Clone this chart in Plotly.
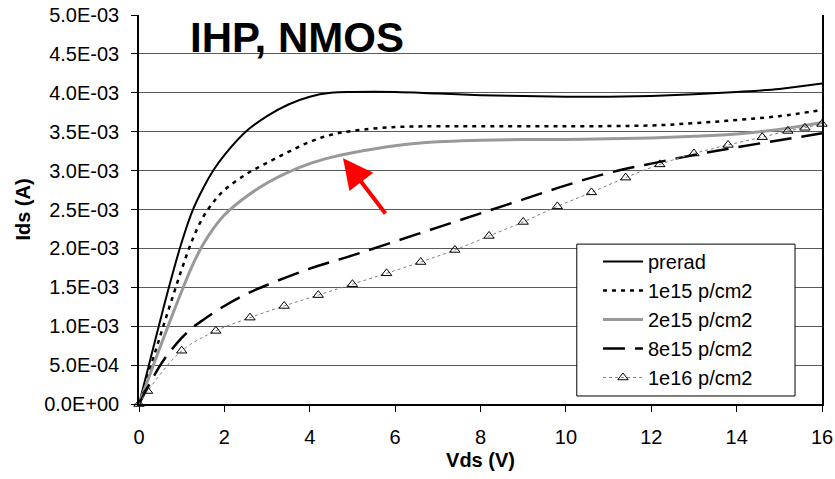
import plotly.graph_objects as go

# ---------------- data ----------------
vds_a = [0, 0.25, 0.5, 0.75, 1.0, 1.25, 1.5, 1.75, 2, 2.5, 3, 3.5, 4, 4.5, 5, 6, 7, 8, 9, 10, 11, 12, 13, 14, 15, 16]
preread = [0, 0.54e-3, 1.08e-3, 1.60e-3, 2.08e-3, 2.48e-3, 2.77e-3, 3.01e-3, 3.20e-3, 3.50e-3, 3.70e-3, 3.85e-3,
           3.95e-3, 4.00e-3, 4.01e-3, 4.01e-3, 3.99e-3, 3.97e-3, 3.96e-3, 3.95e-3, 3.95e-3, 3.96e-3, 3.98e-3,
           4.01e-3, 4.05e-3, 4.12e-3]

vds_b = [0, 0.25, 0.5, 0.75, 1.0, 1.25, 1.5, 1.75, 2, 2.5, 3, 3.5, 4, 4.5, 5, 6, 7, 8, 10, 12, 13, 14, 15, 16]
dose_1e15 = [0, 0.44e-3, 0.88e-3, 1.31e-3, 1.73e-3, 2.11e-3, 2.40e-3, 2.60e-3, 2.75e-3, 2.95e-3, 3.10e-3, 3.24e-3,
             3.37e-3, 3.46e-3, 3.51e-3, 3.56e-3, 3.57e-3, 3.57e-3, 3.57e-3, 3.58e-3, 3.61e-3, 3.65e-3, 3.70e-3,
             3.78e-3]

vds_c = [0, 0.25, 0.5, 0.75, 1.0, 1.25, 1.5, 1.75, 2, 2.5, 3, 3.5, 4, 4.5, 5, 6, 7, 8, 9, 10, 11, 12, 13, 14, 15, 16]
dose_2e15 = [0, 0.37e-3, 0.74e-3, 1.10e-3, 1.45e-3, 1.78e-3, 2.05e-3, 2.26e-3, 2.43e-3, 2.66e-3, 2.84e-3, 2.98e-3,
             3.09e-3, 3.17e-3, 3.23e-3, 3.32e-3, 3.37e-3, 3.39e-3, 3.40e-3, 3.40e-3, 3.41e-3, 3.42e-3, 3.44e-3,
             3.47e-3, 3.53e-3, 3.62e-3]

vds_d = [0, 0.25, 0.5, 0.75, 1.0, 1.25, 1.5, 2, 2.5, 3, 4, 5, 6, 7, 8, 9, 10, 11, 12, 13, 14, 15, 16]
dose_8e15 = [0, 0.26e-3, 0.50e-3, 0.69e-3, 0.85e-3, 0.98e-3, 1.08e-3, 1.26e-3, 1.41e-3, 1.53e-3, 1.74e-3, 1.91e-3,
             2.09e-3, 2.27e-3, 2.45e-3, 2.63e-3, 2.81e-3, 2.97e-3, 3.09e-3, 3.20e-3, 3.30e-3, 3.39e-3, 3.48e-3]

vds_e = [0, 0.2, 1.0, 1.8, 2.6, 3.4, 4.2, 5.0, 5.8, 6.6, 7.4, 8.2, 9.0, 9.8, 10.6, 11.4, 12.2, 13.0, 13.8, 14.6,
         15.2, 15.6, 16.0]
dose_1e16 = [0, 0.167e-3, 0.685e-3, 0.94e-3, 1.11e-3, 1.26e-3, 1.40e-3, 1.54e-3, 1.68e-3, 1.825e-3, 1.98e-3,
             2.16e-3, 2.34e-3, 2.54e-3, 2.72e-3, 2.91e-3, 3.08e-3, 3.22e-3, 3.33e-3, 3.43e-3, 3.51e-3, 3.55e-3,
             3.60e-3]

y_tickvals = [0, 0.5e-3, 1.0e-3, 1.5e-3, 2.0e-3, 2.5e-3, 3.0e-3, 3.5e-3, 4.0e-3, 4.5e-3, 5.0e-3]
y_ticktext = ["0.0E+00", "5.0E-04", "1.0E-03", "1.5E-03", "2.0E-03", "2.5E-03", "3.0E-03", "3.5E-03",
              "4.0E-03", "4.5E-03", "5.0E-03"]
x_tickvals = [0, 2, 4, 6, 8, 10, 12, 14, 16]

names = ["prerad", "1e15 p/cm2", "2e15 p/cm2", "8e15 p/cm2", "1e16 p/cm2"]

# ---------------- figure ----------------
FONT = "Liberation Sans, Arial, sans-serif"
fig = go.Figure()

fig.add_trace(go.Scatter(x=vds_a, y=preread, name=names[0], mode="lines", line_shape="spline",
                         line=dict(color="black", width=2)))
fig.add_trace(go.Scatter(x=vds_b, y=dose_1e15, name=names[1], mode="lines", line_shape="spline",
                         line=dict(color="black", width=2.5, dash="4px,5px")))
fig.add_trace(go.Scatter(x=vds_c, y=dose_2e15, name=names[2], mode="lines", line_shape="spline",
                         line=dict(color="#999999", width=3)))
fig.add_trace(go.Scatter(x=vds_d, y=dose_8e15, name=names[3], mode="lines", line_shape="spline",
                         line=dict(color="black", width=2.5, dash="22px,10px")))
fig.add_trace(go.Scatter(x=vds_e, y=dose_1e16, name=names[4], mode="lines+markers", line_shape="spline",
                         line=dict(color="#808080", width=1, dash="dot"),
                         marker=dict(symbol="triangle-up-open", size=9, color="black", line=dict(width=1)),
                         cliponaxis=False))

# legend frame (drawn as a box over the plot, legend text sits on it)
fig.add_shape(type="rect", xref="paper", yref="paper", x0=0.641, x1=0.9605, y0=0.0206, y1=0.411,
              fillcolor="white", line=dict(color="black", width=1), layer="above")

fig.add_annotation(text="<b>IHP, NMOS</b>", xref="paper", yref="paper", x=0.231, y=0.941,
                   xanchor="center", yanchor="middle", showarrow=False,
                   font=dict(family=FONT, size=42, color="black"))

fig.add_annotation(x=4.78, y=3.16e-3, ax=5.8, ay=2.43e-3, xref="x", yref="y", axref="x", ayref="y",
                   text="", showarrow=True, arrowhead=2, arrowsize=1.5, arrowwidth=4, arrowcolor="#ff0000")

fig.update_layout(
    width=835, height=479,
    margin=dict(l=139, r=13, t=15, b=75),
    paper_bgcolor="white", plot_bgcolor="white",
    font=dict(family=FONT, size=20, color="black"),
    showlegend=True,
    legend=dict(x=0.672, y=0.4165, xanchor="left", yanchor="top",
                bgcolor="rgba(0,0,0,0)", borderwidth=0,
                font=dict(family=FONT, size=20, color="black"),
                itemwidth=40, tracegroupgap=0),
)
fig.update_xaxes(range=[0, 16], tickvals=x_tickvals, showgrid=False, zeroline=False, automargin=False,
                 showline=True, linecolor="black", linewidth=1.5, ticklabeloverflow="allow",
                 ticks="outside", ticklen=6, tickcolor="black", tickfont=dict(size=20),
                 ticklabelstandoff=8,
                 title=dict(text="<b>Vds (V)</b>", font=dict(size=20), standoff=6))
fig.update_yaxes(range=[0, 5e-3], tickvals=y_tickvals, ticktext=y_ticktext, automargin=False,
                 showgrid=True, gridcolor="#5a5a5a", gridwidth=1, zeroline=False,
                 showline=True, linecolor="black", linewidth=1.5, mirror=True, ticklabeloverflow="allow",
                 ticks="outside", ticklen=6, tickcolor="black", tickfont=dict(size=20),
                 ticklabelstandoff=8,
                 title=dict(text="<b>Ids (A)</b>", font=dict(size=20), standoff=8))

# remove the browser's default 8px page margin so the figure fills the window exactly; no toolbar
fig.write_html("out.html",
               config={"displayModeBar": False},
               post_script="document.body.style.margin='0';document.body.style.overflow='hidden';")
